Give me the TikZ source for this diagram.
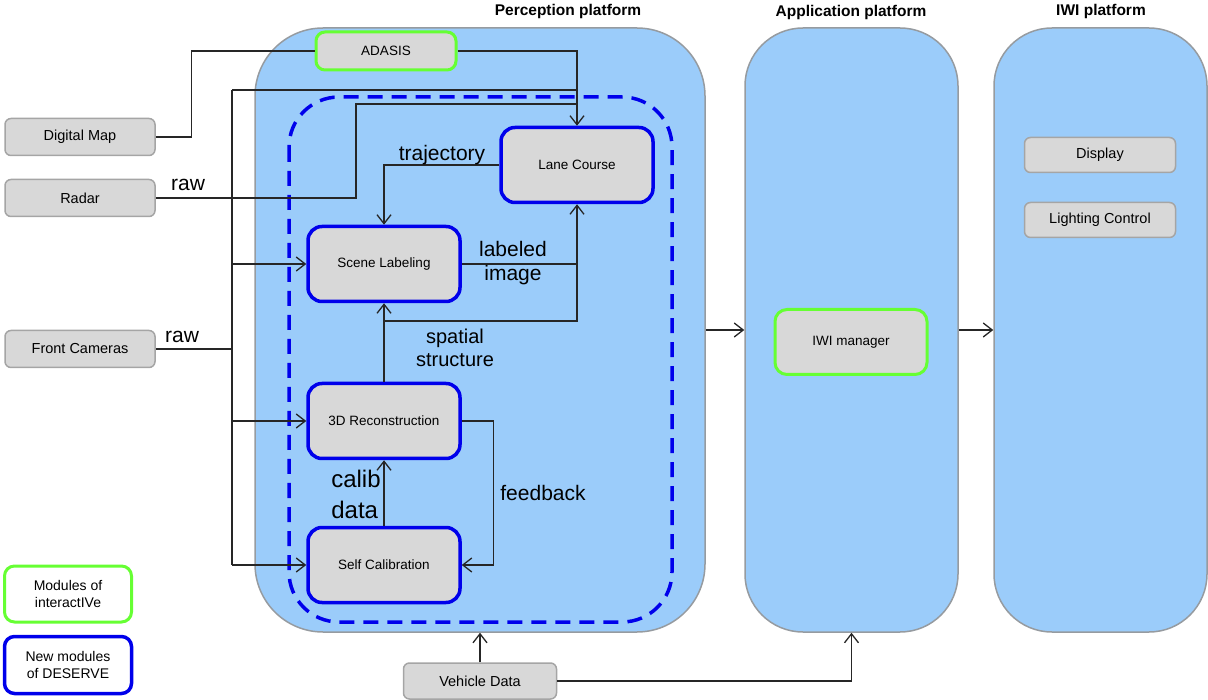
\documentclass[tikz,border=0pt]{standalone}
\usepackage{fontspec}
\setmainfont{Liberation Sans}
\usetikzlibrary{arrows.meta}
\definecolor{plat}{RGB}{155,204,250}
\definecolor{platb}{RGB}{150,155,160}
\definecolor{boxg}{RGB}{216,216,216}
\definecolor{boxb}{RGB}{165,165,165}
\definecolor{newb}{RGB}{0,0,235}
\definecolor{oldg}{RGB}{102,255,51}
\tikzset{
  platform/.style={draw=platb, fill=plat, line width=1.5pt, rounded corners=58pt, inner sep=0pt},
  graybox/.style={draw=boxb, fill=boxg, line width=1.5pt, rounded corners=6pt, inner sep=0pt, font=\fontsize{14.5}{16}\selectfont},
  newmod/.style={draw=newb, fill=boxg, line width=3.5pt, rounded corners=14pt, inner sep=0pt, minimum width=152pt, minimum height=75pt, font=\fontsize{13.5}{16}\selectfont},
  oldmod/.style={draw=oldg, fill=boxg, line width=3pt, rounded corners=9pt, inner sep=0pt, font=\fontsize{13.5}{16}\selectfont},
  legendbox/.style={fill=white, rounded corners=10pt, inner sep=0pt, minimum width=127pt, align=center, font=\fontsize{14}{17}\selectfont},
  lbl/.style={font=\fontsize{21}{24}\selectfont, inner sep=0pt, align=center},
  ptitle/.style={font=\bfseries\fontsize{15.5}{18}\selectfont, inner sep=0pt},
  conn/.style={line width=1.3pt, draw=black!85},
  arr/.style={conn, -{Straight Barb[length=9pt,width=14pt,line width=1.3pt]}}
}
\begin{document}
\begin{tikzpicture}[x=1pt,y=-1pt]
\useasboundingbox (0,0) rectangle (1208,700);
% platforms
\node[platform, rounded corners=68pt, minimum width=450pt, minimum height=604pt] (percep) at (480,330) {};
\node[platform, minimum width=213pt, minimum height=604pt] (app) at (851.5,330) {};
\node[platform, minimum width=213pt, minimum height=604pt] (iwi) at (1100.5,330) {};
\node[ptitle] (tp) at (568,11) {Perception platform};
\node[ptitle] (ta) at (851,12) {Application platform};
\node[ptitle] (ti) at (1101,11) {IWI platform};
% dashed DESERVE region
\draw[newb, line width=3.5pt, dash pattern=on 15pt off 9pt, rounded corners=50pt] (289,97) rectangle (672,622);
% outside sources
\node[graybox, minimum width=150pt, minimum height=37pt] (dm) at (80,137) {Digital Map};
\node[graybox, minimum width=150pt, minimum height=37pt] (radar) at (80,198) {Radar};
\node[graybox, minimum width=150pt, minimum height=37pt] (fc) at (80,349) {Front Cameras};
\node[graybox, minimum width=153pt, minimum height=36pt] (veh) at (480,681) {Vehicle Data};
% modules
\node[oldmod, minimum width=140pt, minimum height=38pt] (adasis) at (386,51) {ADASIS};
\node[newmod] (lane) at (577,165) {Lane Course};
\node[newmod] (scene) at (384,264) {Scene Labeling};
\node[newmod] (recon) at (384,421) {3D Reconstruction};
\node[newmod] (selfcal) at (384,565) {Self Calibration};
\node[oldmod, rounded corners=12pt, minimum width=152pt, minimum height=65pt] (iwim) at (851,342) {IWI manager};
\node[graybox, minimum width=151pt, minimum height=35pt] (disp) at (1100,155) {Display};
\node[graybox, minimum width=151pt, minimum height=35pt] (light) at (1100,220) {Lighting Control};
% legend
\node[legendbox, draw=oldg, line width=3pt, minimum height=56pt] (leg1) at (68,594) {Modules of\\interactIVe};
\node[legendbox, draw=newb, line width=3.5pt, minimum height=57pt] (leg2) at (68,665) {New modules\\of DESERVE};
% connectors
\coordinate (bt) at (232,90);
\coordinate (bb) at (232,565);
\coordinate (rj) at (356,104);
\coordinate (sj) at (384,321);
\draw[conn] (dm.east) -- ++(36,0) |- (adasis.west);
\draw[arr] (adasis.east) -| (lane.north);
\draw[conn] (radar.east) -| (rj) -- (rj -| lane.north);
\draw[conn] (fc.east) -- (fc.east -| bt);
\draw[conn] (bt) -- (bb);
\draw[conn] (bt) -- (bt -| lane.north);
\draw[arr] (bt |- scene.west) -- (scene.west);
\draw[arr] (bt |- recon.west) -- (recon.west);
\draw[arr] (bb) -- (selfcal.west);
\draw[arr] (lane.west) -| (scene.north);
\draw[arr] (scene.east) -| (lane.south);
\draw[arr] (recon.north) -- (scene.south);
\draw[conn] (sj) -| (scene.east -| lane.south);
\draw[arr] (selfcal.north) -- (recon.south);
\draw[arr] (recon.east) -- ++(32,0) |- (selfcal.east);
\draw[arr] (percep.east) -- (app.west);
\draw[arr] (app.east) -- (iwi.west);
\draw[arr] (veh.north) -- (percep.south);
\draw[arr] (veh.east) -| (app.south);
% labels
\node[lbl] (lraw1) at (188,185) {raw};
\node[lbl] (lraw2) at (182,337) {raw};
\node[lbl] (ltraj) at (442,155) {trajectory};
\node[lbl] (llab) at (513,263) {labeled\\image};
\node[lbl, font=\fontsize{20}{23}\selectfont] (lspat) at (455,348) {spatial\\structure};
\node[lbl, align=left, font=\fontsize{24}{31}\selectfont] (lcal) at (356,494) {calib\\data};
\node[lbl] (lfeed) at (543,493) {feedback};
\end{tikzpicture}
\end{document}
